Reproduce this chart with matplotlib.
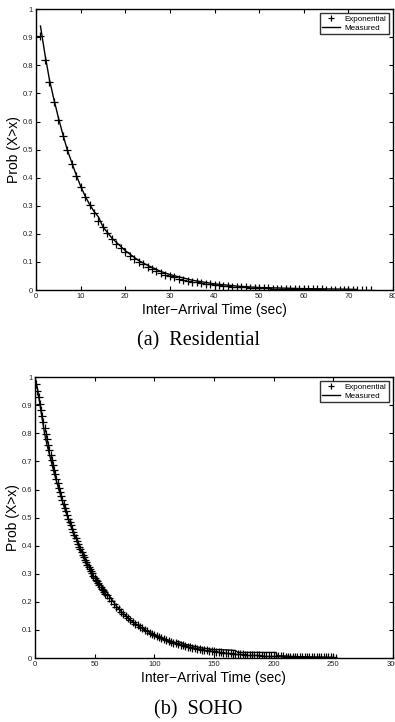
import matplotlib
matplotlib.use("Agg")
import matplotlib.pyplot as plt

# ---- (a) Residential ----
res_exp_x = list(range(1, 76))
res_exp_y = [0.905, 0.819, 0.741, 0.670, 0.607, 0.549, 0.497, 0.449, 0.407, 0.368,
             0.333, 0.301, 0.273, 0.247, 0.223, 0.202, 0.183, 0.165, 0.150, 0.135,
             0.122, 0.111, 0.100, 0.091, 0.082, 0.074, 0.067, 0.061, 0.055, 0.050,
             0.045, 0.041, 0.037, 0.033, 0.030, 0.027, 0.025, 0.022, 0.020, 0.018,
             0.017, 0.015, 0.014, 0.012, 0.011, 0.010, 0.009, 0.008, 0.007, 0.007,
             0.006, 0.006, 0.005, 0.005, 0.004, 0.004, 0.003, 0.003, 0.003, 0.002,
             0.002, 0.002, 0.002, 0.002, 0.001, 0.001, 0.001, 0.001, 0.001, 0.001,
             0.001, 0.001, 0.001, 0.001, 0.001]
res_meas_x = [1, 2, 3, 4, 5, 6, 7, 8, 9, 10, 11, 12, 13, 14, 15, 17, 20, 23, 25, 28,
              30, 35, 40, 45, 50, 55, 60, 65, 70, 72]
res_meas_y = [0.94, 0.84, 0.75, 0.68, 0.615, 0.555, 0.50, 0.455, 0.41, 0.37, 0.335,
              0.305, 0.28, 0.26, 0.225, 0.185, 0.14, 0.105, 0.088, 0.066, 0.055,
              0.035, 0.022, 0.014, 0.009, 0.007, 0.005, 0.004, 0.003, 0.002]

# ---- (b) SOHO ----
soho_exp_x = list(range(1, 61)) + list(range(62, 253, 2))
soho_exp_y = [0.9753, 0.9512, 0.9277, 0.9048, 0.8825, 0.8607, 0.8394, 0.8187, 0.7985, 0.7788,
              0.7596, 0.7408, 0.7225, 0.7047, 0.6873, 0.6703, 0.6538, 0.6376, 0.6219, 0.6065,
              0.5916, 0.5769, 0.5627, 0.5488, 0.5353, 0.5220, 0.5092, 0.4966, 0.4843, 0.4724,
              0.4607, 0.4493, 0.4382, 0.4274, 0.4169, 0.4066, 0.3966, 0.3867, 0.3772, 0.3679,
              0.3588, 0.3499, 0.3413, 0.3329, 0.3247, 0.3166, 0.3088, 0.3012, 0.2938, 0.2865,
              0.2794, 0.2725, 0.2658, 0.2592, 0.2528, 0.2466, 0.2405, 0.2346, 0.2288, 0.2231,
              0.2122, 0.2019, 0.1920, 0.1827, 0.1738, 0.1653, 0.1572, 0.1496, 0.1423, 0.1353,
              0.1287, 0.1225, 0.1165, 0.1108, 0.1054, 0.1003, 0.0954, 0.0907, 0.0863, 0.0821,
              0.0781, 0.0743, 0.0707, 0.0672, 0.0639, 0.0608, 0.0578, 0.0550, 0.0523, 0.0498,
              0.0474, 0.0450, 0.0429, 0.0408, 0.0388, 0.0369, 0.0351, 0.0334, 0.0317, 0.0302,
              0.0287, 0.0273, 0.0260, 0.0247, 0.0235, 0.0224, 0.0213, 0.0202, 0.0193, 0.0183,
              0.0174, 0.0166, 0.0158, 0.0150, 0.0143, 0.0136, 0.0129, 0.0123, 0.0117, 0.0111,
              0.0106, 0.0101, 0.0096, 0.0091, 0.0087, 0.0082, 0.0078, 0.0074, 0.0071, 0.0067,
              0.0064, 0.0061, 0.0058, 0.0055, 0.0052, 0.0050, 0.0047, 0.0045, 0.0043, 0.0041,
              0.0039, 0.0037, 0.0035, 0.0033, 0.0032, 0.0030, 0.0029, 0.0027, 0.0026, 0.0025,
              0.0024, 0.0022, 0.0021, 0.0020, 0.0019, 0.0018]
soho_meas_x = [0, 2, 5, 8, 10, 13, 16, 20, 25, 30, 35, 40, 45, 47, 47.5, 52, 52.5, 55, 60,
               70, 80, 90, 100, 110, 118, 120, 125, 130, 140, 150, 155, 168, 170, 180,
               190, 202, 203, 210, 220, 230, 240, 250, 252]
soho_meas_y = [1.0, 0.96, 0.88, 0.80, 0.76, 0.71, 0.66, 0.60, 0.53, 0.47, 0.42, 0.37,
               0.33, 0.31, 0.285, 0.285, 0.27, 0.262, 0.235, 0.175, 0.135, 0.105, 0.083,
               0.065, 0.055, 0.06, 0.05, 0.045, 0.036, 0.030, 0.03, 0.027, 0.02, 0.02,
               0.02, 0.02, 0.008, 0.007, 0.005, 0.004, 0.003, 0.002, 0.0]

plt.rcParams["font.family"] = ["Liberation Sans", "DejaVu Sans"]
fig = plt.figure(figsize=(3.95, 7.22), dpi=100)

panels = [
    ([0.0911, 0.5983, 0.904, 0.389], res_exp_x, res_exp_y, res_meas_x, res_meas_y,
     80, [0, 10, 20, 30, 40, 50, 60, 70, 80], "(a)  Residential", 1 - 341 / 722, 1 - 310 / 722),
    ([0.0886, 0.0886, 0.906, 0.389], soho_exp_x, soho_exp_y, soho_meas_x, soho_meas_y,
     300, [0, 50, 100, 150, 200, 250, 300], "(b)  SOHO", 1 - 710 / 722, 1 - 678 / 722),
]

for rect, ex, ey, mx, my, xmax, xt, cap, capy, xly in panels:
    ax = fig.add_axes(rect)
    ax.plot(ex, ey, "+", color="k", ms=5.5, mew=0.9, label="Exponential")
    ax.plot(mx, my, "-", color="k", lw=1.0, label="Measured")
    ax.set_xlim(0, xmax)
    ax.set_ylim(0, 1)
    ax.set_xticks(xt)
    ax.set_xticklabels([str(v) for v in xt])
    yt = [0, 0.1, 0.2, 0.3, 0.4, 0.5, 0.6, 0.7, 0.8, 0.9, 1]
    ax.set_yticks(yt)
    ax.set_yticklabels(["0", "0.1", "0.2", "0.3", "0.4", "0.5", "0.6", "0.7", "0.8", "0.9", "1"])
    ax.tick_params(direction="in", top=True, right=True, length=3, width=0.8,
                   labelsize=5.5, pad=2, labelcolor="#222222")
    for s in ax.spines.values():
        s.set_linewidth(1.0)
    ax.set_ylabel("Prob (X>x)", fontsize=10, labelpad=1)
    fig.text(rect[0] + rect[2] * 0.5, xly, "Inter\u2212Arrival Time (sec)",
             ha="center", va="center", fontsize=10)
    fig.text(0.503, capy, cap, ha="center", va="center", fontsize=14.5,
             family=["Liberation Serif", "DejaVu Serif"])
    leg = ax.legend(loc="upper right", fontsize=5.8, frameon=True, fancybox=False,
                    borderpad=0.3, labelspacing=0.1, handlelength=2.2, handletextpad=0.6,
                    borderaxespad=0.5, markerscale=0.7)
    leg.get_frame().set_edgecolor("k")
    leg.get_frame().set_linewidth(1.0)

fig.savefig("out.png", dpi=100)
